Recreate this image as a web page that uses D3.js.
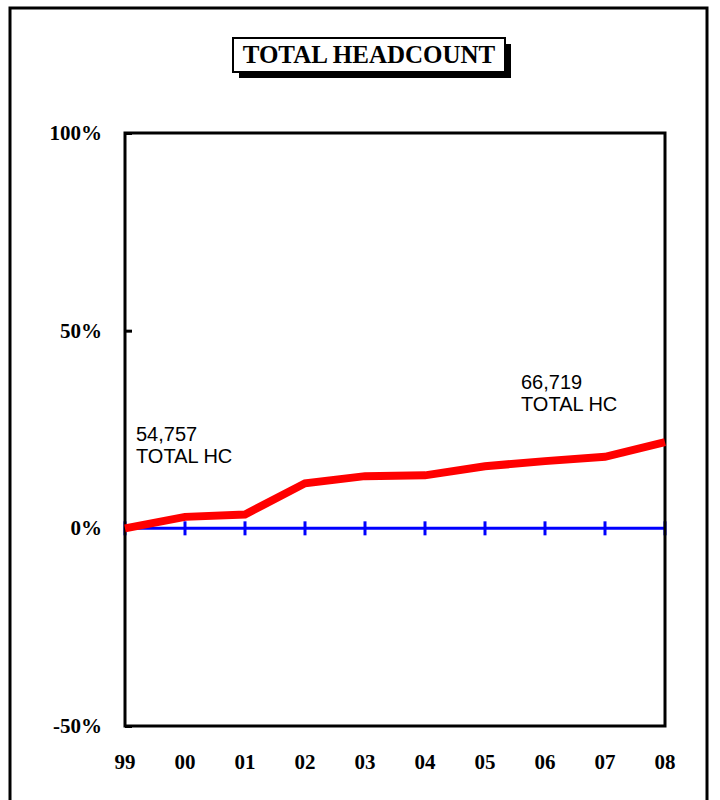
<!DOCTYPE html>
<html>
<head>
<meta charset="utf-8">
<script src="https://cdn.jsdelivr.net/npm/d3@7"></script>
<style>
  body { margin: 0; background: #fff; }
  .tick-label { font-family: "Liberation Serif", "Times New Roman", serif; font-weight: bold; font-size: 21px; fill: #000; }
  .note { font-family: "Liberation Sans", Arial, sans-serif; font-size: 20px; fill: #000; }
</style>
</head>
<body>
<div class="content"></div>
<script>
const years = ["99", "00", "01", "02", "03", "04", "05", "06", "07", "08"];
// % change in headcount vs 1999
const hcChange = [0, 2.9, 3.5, 11.4, 13.2, 13.4, 15.7, 17.0, 18.1, 21.8];
const yTicks = [-50, 0, 50, 100];
const startNote = ["54,757", "TOTAL HC"];
const endNote = ["66,719", "TOTAL HC"];

const width = 720;
const height = 800;
const plot = { left: 125, right: 665, top: 133, bottom: 726 };

const xScale = d3.scalePoint().domain(years).range([plot.left, plot.right]);
const yScale = d3.scaleLinear().domain([-50, 100]).range([plot.bottom, plot.top]);

const svg = d3
  .select(".content")
  .append("svg")
  .attr("width", width)
  .attr("height", height);

//--> Outer frame
svg
  .append("rect")
  .attr("x", 10)
  .attr("y", 8)
  .attr("width", 697)
  .attr("height", 820)
  .attr("fill", "none")
  .attr("stroke", "#000")
  .attr("stroke-width", 3);

//--> Title box with shadow
svg
  .append("rect")
  .attr("x", 239)
  .attr("y", 44)
  .attr("width", 272)
  .attr("height", 34)
  .attr("fill", "#000");

svg
  .append("rect")
  .attr("x", 233)
  .attr("y", 38)
  .attr("width", 272)
  .attr("height", 34)
  .attr("fill", "#fff")
  .attr("stroke", "#000")
  .attr("stroke-width", 2);

svg
  .append("text")
  .attr("x", 369)
  .attr("y", 63)
  .attr("text-anchor", "middle")
  .style("font-family", '"Liberation Serif", "Times New Roman", serif')
  .style("font-weight", "bold")
  .style("font-size", "25px")
  .text("TOTAL HEADCOUNT");

//--> Y axis (inner ticks) and labels
const yAxis = d3.axisRight(yScale).tickValues(yTicks).tickSize(7).tickFormat("");
svg
  .append("g")
  .attr("transform", `translate(${plot.left}, 0)`)
  .call(yAxis)
  .call(g => g.select(".domain").remove())
  .call(g => g.selectAll("line").attr("stroke", "#000").attr("stroke-width", 3));

svg
  .selectAll(".y-label")
  .data(yTicks)
  .enter()
  .append("text")
  .attr("class", "tick-label")
  .attr("x", 102)
  .attr("y", d => yScale(d) + 7)
  .attr("text-anchor", "end")
  .text(d => `${d}%`);

//--> X labels
svg
  .selectAll(".x-label")
  .data(years)
  .enter()
  .append("text")
  .attr("class", "tick-label")
  .attr("x", d => xScale(d))
  .attr("y", 769)
  .attr("text-anchor", "middle")
  .text(d => d);

//--> Zero line with ticks
svg
  .append("line")
  .attr("x1", plot.left)
  .attr("x2", plot.right)
  .attr("y1", yScale(0))
  .attr("y2", yScale(0))
  .attr("stroke", "#0000ff")
  .attr("stroke-width", 3);

svg
  .selectAll(".zero-tick")
  .data(years)
  .enter()
  .append("line")
  .attr("x1", d => xScale(d))
  .attr("x2", d => xScale(d))
  .attr("y1", yScale(0) - 7)
  .attr("y2", yScale(0) + 7)
  .attr("stroke", "#0000ff")
  .attr("stroke-width", 3);

//--> Plot frame
svg
  .append("rect")
  .attr("x", plot.left)
  .attr("y", plot.top)
  .attr("width", plot.right - plot.left)
  .attr("height", plot.bottom - plot.top)
  .attr("fill", "none")
  .attr("stroke", "#000")
  .attr("stroke-width", 3);

//--> Headcount line
const line = d3
  .line()
  .x((d, i) => xScale(years[i]))
  .y(d => yScale(d));

svg
  .append("path")
  .datum(hcChange)
  .attr("d", line)
  .attr("fill", "none")
  .attr("stroke", "#ff0000")
  .attr("stroke-width", 8)
  .attr("stroke-linejoin", "miter");

//--> Notes
const addNote = (lines, x, y) => {
  svg
    .append("text")
    .attr("class", "note")
    .selectAll("tspan")
    .data(lines)
    .enter()
    .append("tspan")
    .attr("x", x)
    .attr("y", (d, i) => y + i * 22)
    .text(d => d);
};

addNote(startNote, 136, 441);
addNote(endNote, 521, 389);
</script>
</body>
</html>
